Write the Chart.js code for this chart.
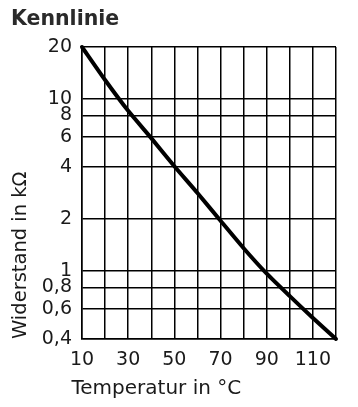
<!DOCTYPE html>
<html><head><meta charset="utf-8">
<script src="https://cdn.jsdelivr.net/npm/chart.js@4"></script>
<style>html,body{margin:0;padding:0;background:#fff}#wrap{width:358px;height:407px;position:relative}</style>
</head><body><div id="wrap"><canvas id="c"></canvas></div>
<script>
const chartTitle = 'Kennlinie';
const xTitle = 'Temperatur in °C';
const yTitle = 'Widerstand in kΩ';
const temperatures = [10, 20, 30, 40, 50, 60, 70, 80, 90, 100, 110, 120];
const resistance = [20, 12.85, 8.5, 5.9, 4.05, 2.83, 1.95, 1.35, 0.96, 0.71, 0.53, 0.4];
const xTickLabels = [10, 30, 50, 70, 90, 110];
const yTickValues = [0.4, 0.6, 0.8, 1, 2, 4, 6, 8, 10, 20];

const FONT = '"DejaVu Sans", sans-serif';
const TEXT = '#1a1a1a';

const xTitlePlugin = {
  id: 'xTitle',
  afterDraw(chart) {
    const {ctx, chartArea} = chart;
    ctx.save();
    ctx.font = '20px ' + FONT;
    ctx.fillStyle = TEXT;
    ctx.textAlign = 'left';
    ctx.textBaseline = 'alphabetic';
    ctx.fillText(xTitle, chartArea.left - 10.5, chartArea.bottom + 55);
    ctx.restore();
  }
};

new Chart(document.getElementById('c'), {
  type: 'line',
  data: {
    datasets: [{
      data: temperatures.map((t, i) => ({x: t, y: resistance[i]})),
      borderColor: '#000',
      borderWidth: 4,
      pointRadius: 0,
      tension: 0.2,
      borderCapStyle: 'round',
      clip: false
    }]
  },
  options: {
    responsive: true,
    maintainAspectRatio: false,
    animation: false,
    layout: {padding: {left: 11, right: 22, top: 0, bottom: 0}},
    plugins: {
      legend: {display: false},
      tooltip: {enabled: false},
      title: {
        display: true, text: chartTitle, align: 'start', color: '#2a2a2a',
        font: {family: FONT, size: 20.5, weight: 'bold', lineHeight: 1.2},
        padding: {top: 7.2, bottom: 15.2}
      }
    },
    scales: {
      x: {
        type: 'linear', min: 10, max: 120,
        afterFit(s) { s.height = 68; },
        grid: {color: '#000', lineWidth: 1.5, drawTicks: false},
        border: {display: true, color: '#000', width: 1.5},
        ticks: {
          stepSize: 10, autoSkip: false, maxRotation: 0, padding: 10,
          color: TEXT, font: {family: FONT, size: 19},
          callback: (v) => xTickLabels.includes(v) ? String(v) : ''
        }
      },
      y: {
        type: 'logarithmic', min: 0.4, max: 20,
        afterBuildTicks(s) { s.ticks = yTickValues.map(v => ({value: v})); },
        afterFit(s) { s.width = 71; },
        grid: {color: '#000', lineWidth: 1.5, drawTicks: false},
        border: {display: true, color: '#000', width: 1.5},
        ticks: {
          autoSkip: false, padding: 10, color: TEXT,
          font: {family: FONT, size: 19},
          callback: (v) => String(v).replace('.', ',')
        },
        title: {
          display: true, text: yTitle, align: 'start', color: TEXT,
          font: {family: FONT, size: 19.5, lineHeight: 1},
          padding: {top: 0.5, bottom: 0}
        }
      }
    }
  },
  plugins: [xTitlePlugin]
});
</script>
</body></html>
